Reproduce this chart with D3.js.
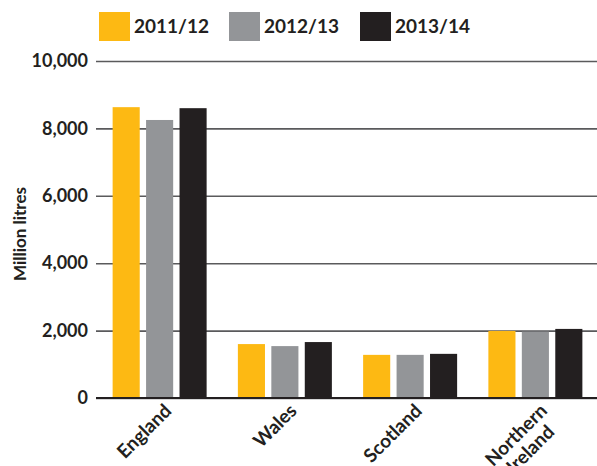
<!DOCTYPE html>
<html>
<head>
<meta charset="utf-8">
<script src="https://cdn.jsdelivr.net/npm/d3@7"></script>
<style>
  html, body { margin: 0; padding: 0; background: #ffffff; }
  svg { display: block; font-family: Lato, "Open Sans", sans-serif; font-weight: 700; }
</style>
</head>
<body>
<svg id="chart" width="597" height="466"></svg>
<script>
// Water volumes by nation, million litres
const regions = ["England", "Wales", "Scotland", "Northern\nIreland"];
const years = ["2011/12", "2012/13", "2013/14"];
const values2011 = [8630, 1600, 1280, 1990];
const values2012 = [8250, 1540, 1280, 1970];
const values2013 = [8600, 1660, 1310, 2050];
const yTicks = [0, 2000, 4000, 6000, 8000, 10000];
const colors = ["#FDB913", "#939598", "#231F20"];

const series = [values2011, values2012, values2013];
const ink = "#231F20";

const svg = d3.select("#chart");

const y = d3.scaleLinear().domain([0, 10000]).range([398, 61]);
const x0 = d3.scaleBand().domain(regions).range([97, 598]).padding(0);
const groupWidth = 94;
const x1 = d3.scaleBand().domain(years).range([0, groupWidth]).paddingInner(0.19);
const groupOffset = (x0.bandwidth() - groupWidth) / 2;

// Horizontal gridlines with value labels
const yAxis = d3.axisLeft(y)
  .tickValues(yTicks)
  .tickFormat(d3.format(","))
  .tickSize(-(597 - 96))
  .tickPadding(8);

const gAxis = svg.append("g")
  .attr("transform", "translate(96,0)")
  .call(yAxis);
gAxis.select(".domain").remove();
gAxis.selectAll(".tick line")
  .attr("stroke", "#5a5a5c")
  .attr("stroke-width", 1.6);
gAxis.selectAll(".tick text")
  .attr("fill", ink)
  .attr("font-size", 18)
  .attr("font-family", "Lato, sans-serif")
  .attr("font-weight", 700);

// Bars
const groups = svg.append("g").selectAll("g")
  .data(regions)
  .join("g")
  .attr("transform", d => `translate(${x0(d) + groupOffset},0)`);

groups.selectAll("rect")
  .data((d, i) => years.map((yr, s) => ({ yr, s, v: series[s][i] })))
  .join("rect")
  .attr("x", d => x1(d.yr))
  .attr("width", x1.bandwidth())
  .attr("y", d => y(d.v))
  .attr("height", d => y(0) - y(d.v))
  .attr("fill", d => colors[d.s]);

// Baseline
svg.append("line")
  .attr("x1", 96).attr("x2", 597)
  .attr("y1", y(0)).attr("y2", y(0))
  .attr("stroke", ink)
  .attr("stroke-width", 2);

// Category labels, rotated
const labels = svg.append("g").selectAll("text")
  .data(regions)
  .join("text")
  .attr("transform", d => `translate(${x0(d) + x0.bandwidth() / 2 + 13},${y(0) + 14}) rotate(-45)`)
  .attr("text-anchor", "end")
  .attr("font-size", 19)
  .attr("fill", ink);

labels.each(function (d) {
  const lines = d.split("\n");
  const t = d3.select(this);
  const spans = lines.map((ln, i) => t.append("tspan")
    .attr("x", 0)
    .attr("y", i * 20)
    .text(ln));
  // centre shorter lines under the longest one
  const lens = spans.map(s => s.node().getComputedTextLength());
  const maxLen = Math.max(...lens);
  spans.forEach((s, i) => s.attr("x", -(maxLen - lens[i]) / 2));
});

// Y axis title
svg.append("text")
  .attr("transform", "translate(26,234) rotate(-90)")
  .attr("text-anchor", "middle")
  .attr("font-size", 17)
  .attr("fill", ink)
  .text("Million litres");

// Legend
const legendX = [99, 229, 360];
const legend = svg.append("g").selectAll("g")
  .data(years)
  .join("g")
  .attr("transform", (d, i) => `translate(${legendX[i]},12)`);
legend.append("rect")
  .attr("width", 31).attr("height", 29)
  .attr("fill", (d, i) => colors[i]);
legend.append("text")
  .attr("x", 35).attr("y", 21)
  .attr("font-size", 19)
  .attr("fill", ink)
  .text(d => d);
</script>
</body>
</html>
